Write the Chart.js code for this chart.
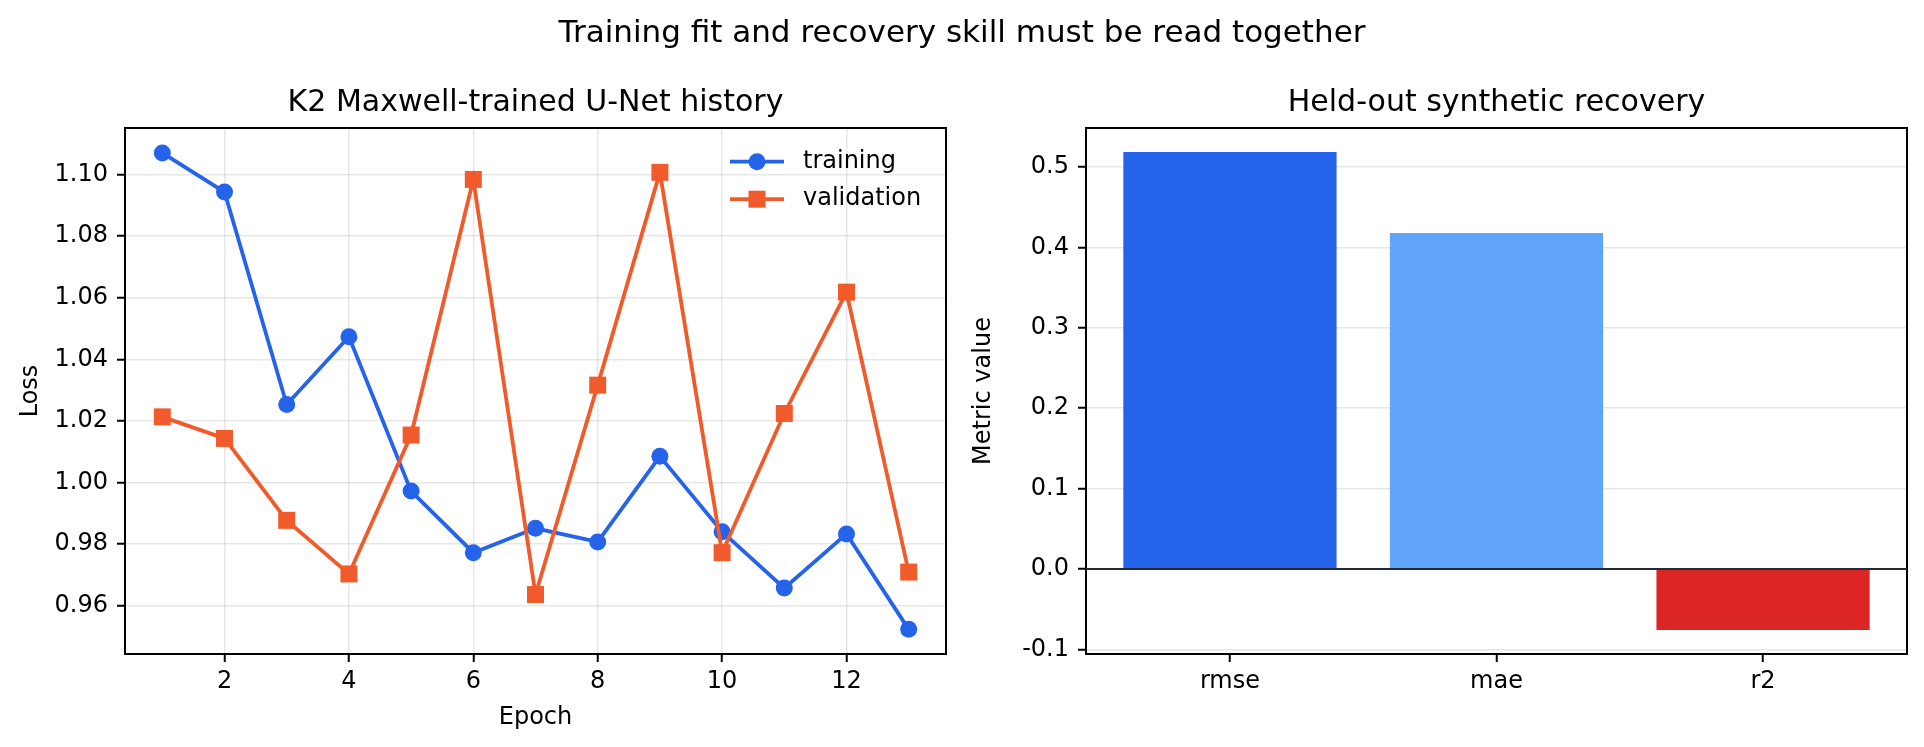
<!DOCTYPE html>
<html>
<head>
<meta charset="utf-8">
<script src="https://cdn.jsdelivr.net/npm/chart.js@4.4.1/dist/chart.umd.min.js"></script>
<style>
  html, body { margin: 0; padding: 0; background: #fff; overflow: hidden; }
  body { width: 1924px; height: 747px; position: relative; }
  canvas { position: absolute; top: 0; }
  #suptitle {
    position: absolute; left: 0; top: 15.5px; width: 1924px;
    text-align: center; font: 31px/31px "DejaVu Sans"; color: #000; z-index: 2;
  }
</style>
</head>
<body>
<div id="suptitle">Training fit and recovery skill must be read together</div>
<canvas id="graficoHistorico" width="1071" height="747" style="left:0"></canvas>
<canvas id="graficoMetricas" width="1073" height="747" style="left:960px"></canvas>
<script>
// dados
const epocas = [1, 2, 3, 4, 5, 6, 7, 8, 9, 10, 11, 12, 13];
const perdaTreino = [1.107, 1.0943, 1.0253, 1.0473, 0.9972, 0.9772, 0.9851, 0.9807, 1.0085, 0.984, 0.9657, 0.9833, 0.9523];
const perdaValidacao = [1.0213, 1.0143, 0.9877, 0.9703, 1.0154, 1.0984, 0.9636, 1.0316, 1.1007, 0.9772, 1.0224, 1.0618, 0.9709];
const ticksEpoca = [2, 4, 6, 8, 10, 12];
const ticksPerda = [0.96, 0.98, 1.00, 1.02, 1.04, 1.06, 1.08, 1.10];

const metricas = ["rmse", "mae", "r2"];
const valoresMetricas = [0.5187, 0.4177, -0.076];
const ticksMetrica = [-0.1, 0.0, 0.1, 0.2, 0.3, 0.4, 0.5];

// cores
const COR_TREINO = "#2563eb";
const COR_VALID = "#f15a2a";
const CORES_BARRAS = ["#2563eb", "#60a5fa", "#dc2626"];
const COR_GRADE = "rgba(176,176,176,0.3)";

Chart.defaults.font.family = "DejaVu Sans";
Chart.defaults.color = "#000";

// moldura estilo matplotlib
const moldura = {
    id: "moldura",
    afterDraw(chart) {
        const { ctx, chartArea: a } = chart;
        ctx.save();
        ctx.strokeStyle = "#000";
        ctx.lineWidth = 2;
        ctx.strokeRect(a.left, a.top, a.right - a.left, a.bottom - a.top);
        ctx.restore();
    }
};

// legenda dentro da area, canto superior direito
const legendaInterna = {
    id: "legendaInterna",
    afterDraw(chart) {
        const { ctx } = chart;
        ctx.save();
        chart.data.datasets.forEach((ds, i) => {
            const y = 161.7 + i * 37.5;
            ctx.strokeStyle = ds.borderColor;
            ctx.lineWidth = ds.borderWidth;
            ctx.beginPath();
            ctx.moveTo(730, y);
            ctx.lineTo(784, y);
            ctx.stroke();
            ctx.fillStyle = ds.pointBackgroundColor;
            Chart.helpers.drawPoint(ctx, { pointStyle: ds.pointStyle, radius: ds.pointRadius, borderWidth: 0 }, 757, y);
            ctx.fillStyle = "#000";
            ctx.font = "24px 'DejaVu Sans'";
            ctx.textBaseline = "middle";
            ctx.fillText(ds.label, 803, y);
        });
        ctx.restore();
    }
};

// linha do zero no grafico de barras
const linhaZero = {
    id: "linhaZero",
    afterDraw(chart) {
        const { ctx, chartArea: a } = chart;
        const y = chart.scales.y.getPixelForValue(0);
        ctx.save();
        ctx.strokeStyle = "#1f2937";
        ctx.lineWidth = 2;
        ctx.beginPath();
        ctx.moveTo(a.left, y);
        ctx.lineTo(a.right, y);
        ctx.stroke();
        ctx.restore();
    }
};

const fonteTick = { size: 24 };
const fonteTitulo = { size: 30, weight: "normal" };
const gradeBase = { color: COR_GRADE, lineWidth: 1.5, tickColor: "#000", tickWidth: 2, tickLength: 8 };

// eixo vazio a direita: reserva espaco sem encolher o titulo,
// assim o titulo fica centrado sobre a area do grafico
function eixoEspaco(largura) {
    return {
        type: "linear",
        position: "right",
        display: true,
        ticks: { display: false },
        grid: { display: false },
        border: { display: false },
        afterFit: s => { s.width = largura; }
    };
}

new Chart(document.getElementById("graficoHistorico"), {
    type: "line",
    data: {
        datasets: [
            {
                label: "training",
                data: epocas.map((e, i) => ({ x: e, y: perdaTreino[i] })),
                borderColor: COR_TREINO,
                backgroundColor: COR_TREINO,
                pointBackgroundColor: COR_TREINO,
                borderWidth: 3.8,
                pointStyle: "circle",
                pointRadius: 8.5,
                pointBorderWidth: 0,
                order: 1
            },
            {
                label: "validation",
                data: epocas.map((e, i) => ({ x: e, y: perdaValidacao[i] })),
                borderColor: COR_VALID,
                backgroundColor: COR_VALID,
                pointBackgroundColor: COR_VALID,
                borderWidth: 3.8,
                pointStyle: "rect",
                pointRadius: 12,
                pointBorderWidth: 0,
                order: 0
            }
        ]
    },
    options: {
        responsive: false,
        animation: false,
        layout: { padding: 0 },
        plugins: {
            legend: { display: false },
            tooltip: { enabled: false },
            title: {
                display: true,
                text: "K2 Maxwell-trained U-Net history",
                font: fonteTitulo,
                color: "#000",
                padding: { top: 85.5, bottom: 6.5 }
            }
        },
        scales: {
            x: {
                type: "linear",
                min: 0.4,
                max: 13.6,
                afterBuildTicks: s => { s.ticks = ticksEpoca.map(v => ({ value: v })); },
                afterFit: s => { s.height = 93; },
                ticks: { font: fonteTick, padding: 5, callback: v => String(v), maxRotation: 0 },
                grid: gradeBase,
                border: { display: false },
                title: { display: true, text: "Epoch", font: fonteTick, padding: { top: 0, bottom: 14.5 } }
            },
            y: {
                min: 0.9443,
                max: 1.1151,
                afterBuildTicks: s => { s.ticks = ticksPerda.map(v => ({ value: v })); },
                afterFit: s => { s.width = 125; },
                ticks: { font: fonteTick, padding: 9, callback: v => v.toFixed(2) },
                grid: gradeBase,
                border: { display: false },
                title: { display: true, text: "Loss", font: fonteTick, padding: { top: 16, bottom: 0 } }
            },
            espaco: eixoEspaco(125)
        }
    },
    plugins: [moldura, legendaInterna]
});

new Chart(document.getElementById("graficoMetricas"), {
    type: "bar",
    data: {
        datasets: [
            {
                label: "metric",
                data: metricas.map((m, i) => ({ x: i, y: valoresMetricas[i] })),
                backgroundColor: CORES_BARRAS,
                borderWidth: 0,
                barPercentage: 0.8,
                categoryPercentage: 1.0
            }
        ]
    },
    options: {
        responsive: false,
        animation: false,
        layout: { padding: 0 },
        plugins: {
            legend: { display: false },
            tooltip: { enabled: false },
            title: {
                display: true,
                text: "Held-out synthetic recovery",
                font: fonteTitulo,
                color: "#000",
                padding: { top: 85.5, bottom: 6.5 }
            }
        },
        scales: {
            x: {
                type: "linear",
                min: -0.54,
                max: 2.54,
                offset: false,
                afterBuildTicks: s => { s.ticks = metricas.map((m, i) => ({ value: i })); },
                afterFit: s => { s.height = 93; },
                ticks: { font: fonteTick, padding: 5, callback: v => metricas[v], maxRotation: 0 },
                grid: { ...gradeBase, offset: false, drawOnChartArea: false },
                border: { display: false }
            },
            y: {
                min: -0.1057,
                max: 0.5484,
                z: 1,
                afterBuildTicks: s => { s.ticks = ticksMetrica.map(v => ({ value: v })); },
                afterFit: s => { s.width = 126; },
                ticks: { font: fonteTick, padding: 9, callback: v => v.toFixed(1) },
                grid: gradeBase,
                border: { display: false },
                title: { display: true, text: "Metric value", font: fonteTick, padding: { top: 9.6, bottom: 0 } }
            },
            espaco: eixoEspaco(126)
        }
    },
    plugins: [moldura, linhaZero]
});
</script>
</body>
</html>
